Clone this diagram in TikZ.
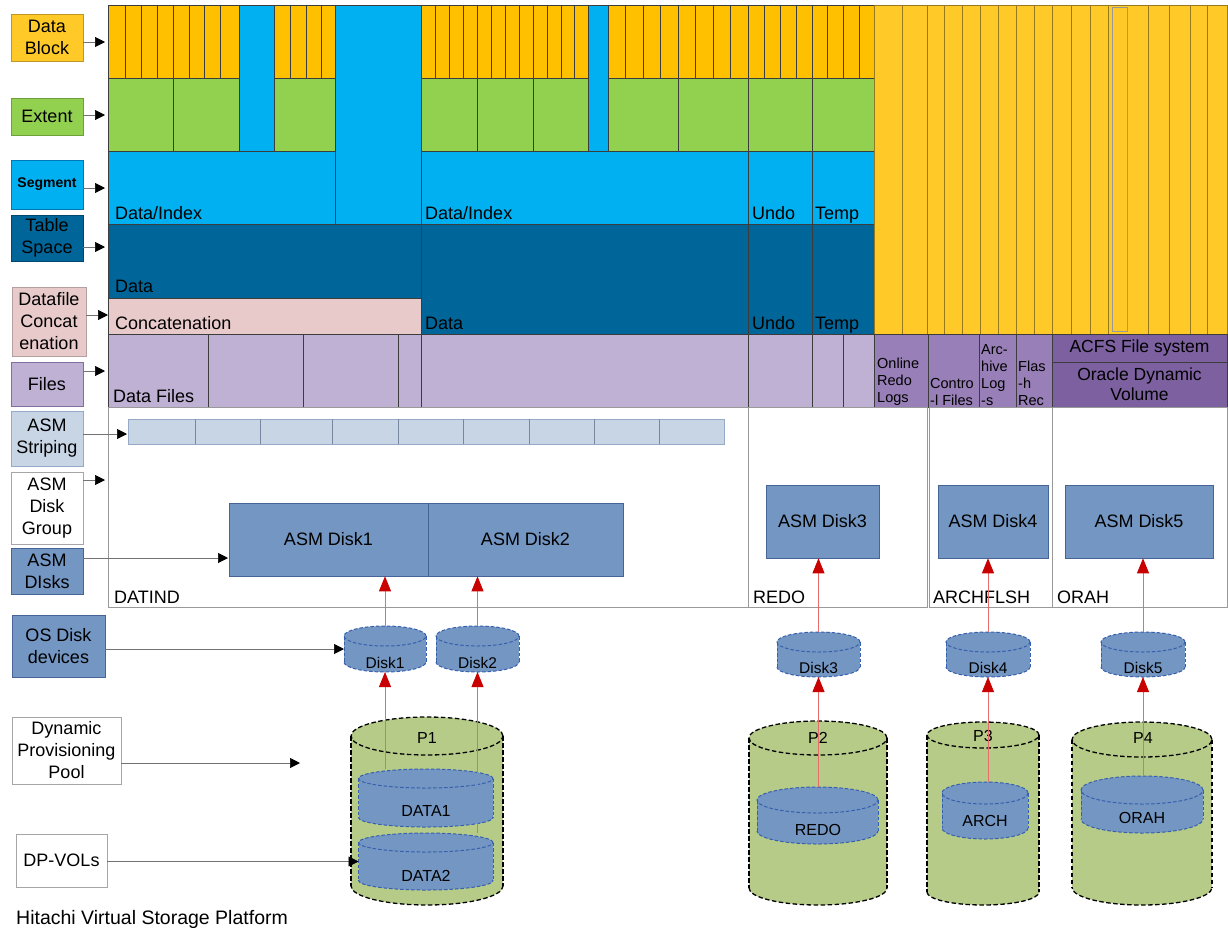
\documentclass[tikz,border=0pt]{standalone}
\usepackage{fontspec}
\setmainfont{Liberation Sans}
\usetikzlibrary{arrows.meta}
\definecolor{cYel}{RGB}{255,192,0}
\definecolor{cYel2}{RGB}{255,202,40}
\definecolor{cYelB}{RGB}{190,150,40}
\definecolor{cGrn}{RGB}{146,208,80}
\definecolor{cGrnB}{RGB}{110,160,60}
\definecolor{cCya}{RGB}{0,176,240}
\definecolor{cCyaB}{RGB}{0,120,180}
\definecolor{cDb}{RGB}{0,102,153}
\definecolor{cDbB}{RGB}{0,70,110}
\definecolor{cPink}{RGB}{232,202,202}
\definecolor{cPinkB}{RGB}{180,160,160}
\definecolor{cLp}{RGB}{191,177,212}
\definecolor{cLpB}{RGB}{130,110,160}
\definecolor{cMp}{RGB}{152,127,183}
\definecolor{cDp}{RGB}{124,96,160}
\definecolor{cAsm}{RGB}{115,150,194}
\definecolor{cAsmB}{RGB}{70,100,150}
\definecolor{cStr}{RGB}{200,213,229}
\definecolor{cStrB}{RGB}{150,170,200}
\definecolor{cPool}{RGB}{182,203,136}
\definecolor{cLine}{RGB}{60,60,60}
\definecolor{cOl}{RGB}{150,120,30}
\definecolor{cRedH}{RGB}{200,0,0}
\definecolor{cRedL}{RGB}{228,110,110}
\definecolor{cDiskE}{RGB}{55,95,175}
\newcommand{\mycyl}[8]{%
  \node[inner sep=0pt,outer sep=0pt,minimum width={(#3-#2)*1pt},minimum height={(#5-#4)*1pt}] (#1) at ({(#2+#3)/2},{(#4+#5)/2}) {};
  \fill[#7] (#2,{#4+#6}) rectangle (#3,{#5-#6});
  \fill[#7] ({(#2+#3)/2},{#5-#6}) ellipse [x radius={(#3-#2)/2*1pt}, y radius={#6*1pt}];
  \fill[#7] ({(#2+#3)/2},{#4+#6}) ellipse [x radius={(#3-#2)/2*1pt}, y radius={#6*1pt}];
  \draw[#8] (#2,{#4+#6}) -- (#2,{#5-#6});
  \draw[#8] (#3,{#4+#6}) -- (#3,{#5-#6});
  \draw[#8] ({(#2+#3)/2},{#4+#6}) ellipse [x radius={(#3-#2)/2*1pt}, y radius={#6*1pt}];
  \begin{scope}
    \clip ({#2-4},{#5-#6}) rectangle ({#3+4},{#5+4});
    \draw[#8] ({(#2+#3)/2},{#5-#6}) ellipse [x radius={(#3-#2)/2*1pt}, y radius={#6*1pt}];
  \end{scope}
}
\begin{document}
\begin{tikzpicture}[x=1pt,y=-1pt,
  blk/.style={draw=cLine, line width=0.6pt},
  oll/.style={draw=cOl, line width=0.6pt},
  txt/.style={inner sep=0pt, font=\fontsize{18}{21}\selectfont},
  stxt/.style={inner sep=0pt, align=left, font=\fontsize{14.5}{17}\selectfont},
  ctxt/.style={inner sep=0pt, font=\fontsize{15.5}{18}\selectfont},
  lbl/.style={line width=0.7pt, align=center, inner sep=1pt, font=\fontsize{18}{22}\selectfont, minimum width=72pt},
  asmbox/.style={draw=cAsmB, line width=0.6pt, fill=cAsm, inner sep=0pt, font=\fontsize{18}{21}\selectfont, minimum height=73pt},
  grp/.style={draw=black!40, line width=0.8pt},
  larr/.style={draw=black!55, line width=0.7pt, -{Triangle[length=10pt,width=10pt,color=black]}},
  rarr/.style={draw=cRedL, line width=0.8pt, -{Triangle[length=15pt,width=12pt,color=cRedH]}},
  diskedge/.style={draw=cDiskE, line width=1pt, dash pattern=on 3.5pt off 2pt},
  pooledge/.style={draw=black, line width=1.3pt, dash pattern=on 4.5pt off 2.5pt}
]
\useasboundingbox (0,0) rectangle (1228,932);
\fill[white] (0,0) rectangle (1228,932);

% ---------- data blocks (yellow) ----------
\filldraw[blk, fill=cYel] (108,5) rectangle (239,78);
\foreach \x in {125,141,157,173,189,204,220} \draw[blk] (\x,5) -- (\x,78);
\filldraw[blk, fill=cYel] (274,5) rectangle (335,78);
\foreach \x in {290,306,321} \draw[blk] (\x,5) -- (\x,78);
\filldraw[blk, fill=cYel] (421,5) rectangle (588,78);
\foreach \x in {435,449,463,477,491,505,519,533,547,561,574} \draw[blk] (\x,5) -- (\x,78);
\filldraw[blk, fill=cYel] (608,5) rectangle (874,78);
\foreach \x in {625,643,660,678,695,713,730,748,764,780,796,812,827,843,859} \draw[blk] (\x,5) -- (\x,78);

% ---------- cyan columns ----------
\filldraw[blk, fill=cCya] (239,5) rectangle (274,151);
\filldraw[blk, fill=cCya] (335,5) rectangle (421,224);
\filldraw[blk, fill=cCya] (588,5) rectangle (608,151);

% ---------- extents (green) ----------
\filldraw[blk, fill=cGrn] (108,78) rectangle (239,151);
\draw[blk] (173,78) -- (173,151);
\filldraw[blk, fill=cGrn] (274,78) rectangle (335,151);
\filldraw[blk, fill=cGrn] (421,78) rectangle (588,151);
\foreach \x in {477,533} \draw[blk] (\x,78) -- (\x,151);
\filldraw[blk, fill=cGrn] (608,78) rectangle (874,151);
\foreach \x in {678,748,812} \draw[blk] (\x,78) -- (\x,151);

% ---------- segments ----------
\filldraw[blk, fill=cCya] (108,151) rectangle (335,224);
\filldraw[blk, fill=cCya] (421,151) rectangle (874,224);
\foreach \x in {748,812} \draw[blk] (\x,151) -- (\x,224);

% ---------- tablespaces ----------
\filldraw[blk, fill=cDb] (108,224) rectangle (421,298);
\filldraw[blk, fill=cDb] (421,224) rectangle (874,334);
\foreach \x in {748,812} \draw[blk] (\x,224) -- (\x,334);

% ---------- concatenation ----------
\filldraw[blk, fill=cPink] (108,298) rectangle (421,334);

% ---------- files ----------
\filldraw[blk, fill=cLp] (108,334) rectangle (874,407);
\foreach \x in {208,303,398,421,748,812,843} \draw[blk] (\x,334) -- (\x,407);

% ---------- right yellow area ----------
\filldraw[oll, fill=cYel2] (874,5) rectangle (1227,334);
\foreach \x in {902,927,944,962,980,998,1016,1034,1052,1071,1090,1108,1148,1169,1190,1207} \draw[oll] (\x,5) -- (\x,334);
\draw[draw=black!40, line width=0.8pt] (1112,7) rectangle (1127,331);

% ---------- right files ----------
\filldraw[blk, fill=cMp] (874,334) rectangle (928,407);
\filldraw[blk, fill=cMp] (928,334) rectangle (979,407);
\filldraw[blk, fill=cMp] (979,334) rectangle (1016,407);
\filldraw[blk, fill=cMp] (1016,334) rectangle (1052,407);
\filldraw[blk, fill=cDp] (1052,334) rectangle (1227,362);
\filldraw[blk, fill=cDp] (1052,362) rectangle (1227,407);

% ---------- texts in the stack ----------
\node[txt, anchor=base west] (tdi1) at (115,219) {Data/Index};
\node[txt, anchor=base west] (tda1) at (115,292) {Data};
\node[txt, anchor=base west] (tcon) at (115,329) {Concatenation};
\node[txt, anchor=base west] (tdi2) at (425,219) {Data/Index};
\node[txt, anchor=base west] (tun1) at (752,219) {Undo};
\node[txt, anchor=base west] (tte1) at (815,219) {Temp};
\node[txt, anchor=base west] (tda2) at (425,329) {Data};
\node[txt, anchor=base west] (tun2) at (752,329) {Undo};
\node[txt, anchor=base west] (tte2) at (815,329) {Temp};
\node[txt, anchor=base west] (tdf) at (113,402) {Data Files};
\node[stxt, anchor=south west] (tord) at (877,406) {Online\\Redo\\Logs};
\node[stxt, anchor=south west] (tctl) at (930,406) {Contro\\-l Files};
\node[stxt, anchor=south west] (tarc) at (981,406) {Arc-\\hive\\Log\\-s};
\node[stxt, anchor=south west] (tfla) at (1018,406) {Flas\\-h\\Rec};
\node[inner sep=0pt, font=\fontsize{17.5}{20}\selectfont] (tacfs) at (1139.5,348) {ACFS File system};
\node[inner sep=0pt, align=center, font=\fontsize{17.5}{20}\selectfont] (todv) at (1139.5,384.5) {Oracle Dynamic\\Volume};

% ---------- disk groups ----------
\draw[grp] (108,407) rectangle (748,607);
\draw[grp] (748,407) rectangle (927,607);
\draw[grp] (929,407) rectangle (1052,607);
\draw[grp] (1052,407) rectangle (1227,607);
\node[txt, anchor=base west] (gdat) at (114,603) {DATIND};
\node[txt, anchor=base west] (gred) at (753,603) {REDO};
\node[txt, anchor=base west] (garc) at (933,603) {ARCHFLSH};
\node[txt, anchor=base west] (gora) at (1057,603) {ORAH};

% ---------- ASM striping ----------
\filldraw[draw=cStrB, line width=0.7pt, fill=cStr] (128,419) rectangle (724,444);
\foreach \x in {195,260,332,398,463,529,594,659} \draw[draw=cStrB!80!black, line width=0.7pt] (\x,419) -- (\x,444);

% ---------- ASM disks ----------
\node[asmbox, minimum width=199pt] (asm1) at (328.5,539.5) {ASM Disk1};
\node[asmbox, minimum width=195pt] (asm2) at (525.5,539.5) {ASM Disk2};
\node[asmbox, minimum width=113pt] (asm3) at (822.5,521.5) {ASM Disk3};
\node[asmbox, minimum width=110pt] (asm4) at (993,521.5) {ASM Disk4};
\node[asmbox, minimum width=148pt] (asm5) at (1139,521.5) {ASM Disk5};

% ---------- pools ----------
\mycyl{p1}{351}{503}{717}{905}{19}{cPool}{pooledge}
\mycyl{p2}{749}{887}{721}{905}{17}{cPool}{pooledge}
\mycyl{p3}{927}{1039}{722}{905}{13}{cPool}{pooledge}
\mycyl{p4}{1072}{1212}{722}{905}{17.5}{cPool}{pooledge}
\node[ctxt, font=\fontsize{16}{18}\selectfont] (p1t) at (427,738) {P1};
\node[ctxt, font=\fontsize{16}{18}\selectfont] (p2t) at (818,738) {P2};
\node[ctxt, font=\fontsize{16}{18}\selectfont] (p3t) at (983,736) {P3};
\node[ctxt, font=\fontsize{16}{18}\selectfont] (p4t) at (1143,738) {P4};

% ---------- DP-VOLs ----------
\mycyl{data1}{358.5}{493}{769}{827}{9.5}{cAsm}{diskedge}
\mycyl{data2}{358.5}{493}{833}{890}{9.5}{cAsm}{diskedge}
\mycyl{redo}{757}{878}{787}{844}{13}{cAsm}{diskedge}
\mycyl{arch}{942}{1028}{782}{839}{11}{cAsm}{diskedge}
\mycyl{orah}{1081}{1203}{776}{833}{14}{cAsm}{diskedge}
\node[ctxt, font=\fontsize{16}{18}\selectfont] (data1t) at (426,811) {DATA1};
\node[ctxt, font=\fontsize{16}{18}\selectfont] (data2t) at (426,876) {DATA2};
\node[ctxt, font=\fontsize{16}{18}\selectfont] (redot) at (818,830) {REDO};
\node[ctxt, font=\fontsize{16}{18}\selectfont] (archt) at (985,821) {ARCH};
\node[ctxt, font=\fontsize{16}{18}\selectfont] (oraht) at (1142,818) {ORAH};

% ---------- OS disks ----------
\mycyl{disk1}{344}{426}{626}{672}{10}{cAsm}{diskedge}
\mycyl{disk2}{436}{519}{626}{672}{10}{cAsm}{diskedge}
\mycyl{disk3}{777}{860}{632}{677}{10}{cAsm}{diskedge}
\mycyl{disk4}{946}{1030}{632}{677}{10}{cAsm}{diskedge}
\mycyl{disk5}{1101}{1185}{632}{677}{10}{cAsm}{diskedge}
\node[ctxt] (disk1t) at (385,663) {Disk1};
\node[ctxt] (disk2t) at (477.5,663) {Disk2};
\node[ctxt] (disk3t) at (818.5,668) {Disk3};
\node[ctxt] (disk4t) at (988,668) {Disk4};
\node[ctxt] (disk5t) at (1143,668) {Disk5};

% ---------- red arrows ----------
\draw[rarr] (disk1.south |- data1.north) -- (disk1.south);
\draw[rarr] (disk1.north) -- (disk1.north |- asm1.south);
\draw[rarr] (disk2.south |- data2.north) -- (disk2.south);
\draw[rarr] (disk2.north) -- (disk2.north |- asm2.south);
\draw[rarr] (disk3.south |- redo.north) -- (disk3.south);
\draw[rarr] (disk3.north) -- (disk3.north |- asm3.south);
\draw[rarr] (disk4.south |- arch.north) -- (disk4.south);
\draw[rarr] (disk4.north) -- (disk4.north |- asm4.south);
\draw[rarr] (disk5.south |- orah.north) -- (disk5.south);
\draw[rarr] (disk5.north) -- (disk5.north |- asm5.south);

% ---------- left legend ----------
\node[lbl, fill=cYel2, draw=cYelB, minimum height=47pt] (lDB) at (47,37.5) {Data\\Block};
\node[lbl, fill=cGrn, draw=cGrnB, minimum height=37pt] (lEx) at (47,116.5) {Extent};
\node[lbl, fill=cCya, draw=cCyaB, minimum height=49pt, font=\fontsize{14}{16}\selectfont\bfseries] (lSeg) at (47,184.5) {Segment};
\node[lbl, fill=cDb, draw=cDbB, minimum height=46pt] (lTS) at (47,238) {Table\\Space};
\node[lbl, fill=cPink, draw=cPinkB, minimum width=74pt, minimum height=69pt] (lDC) at (49,321.5) {Datafile\\Concat\\enation};
\node[lbl, fill=cLp, draw=cLpB, minimum height=44pt] (lFi) at (47,384) {Files};
\node[lbl, fill=cStr, draw=cStrB, minimum height=55pt] (lStr) at (47,438.5) {ASM\\Striping};
\node[lbl, fill=white, draw=black!35, minimum height=72pt] (lDG) at (47,508) {ASM\\Disk\\Group};
\node[lbl, fill=cAsm, draw=cAsmB, minimum height=46pt] (lAD) at (47,571) {ASM\\DIsks};
\node[lbl, fill=cAsm, draw=cAsmB, minimum width=93pt, minimum height=62pt] (lOS) at (58.5,646) {OS Disk\\devices};
\node[lbl, fill=white, draw=black!35, minimum width=109pt, minimum height=67pt] (lDP) at (66.5,750.5) {Dynamic\\Provisioning\\Pool};
\node[lbl, fill=white, draw=black!35, minimum width=91pt, minimum height=53pt] (lDV) at (61.5,860.5) {DP-VOLs};
\node[inner sep=0pt, anchor=base west, font=\fontsize{19.5}{22}\selectfont] (hvsp) at (16,924) {Hitachi Virtual Storage Platform};

\coordinate (aDB) at (105,42);
\coordinate (aEx) at (105,115);
\coordinate (aSeg) at (105,188);
\coordinate (aTS) at (105,247);
\coordinate (aDC) at (108,315);
\coordinate (aFi) at (105,371);
\coordinate (aStr) at (127,434);
\coordinate (aDG) at (105,480);
\coordinate (aAD) at (228,558);
\coordinate (aDP) at (300,763);

\draw[larr] (lDB.east |- aDB) -- (aDB);
\draw[larr] (lEx.east |- aEx) -- (aEx);
\draw[larr] (lSeg.east |- aSeg) -- (aSeg);
\draw[larr] (lTS.east |- aTS) -- (aTS);
\draw[larr] (lDC.east |- aDC) -- (aDC);
\draw[larr] (lFi.east |- aFi) -- (aFi);
\draw[larr] (lStr.east |- aStr) -- (aStr);
\draw[larr] (lDG.east |- aDG) -- (aDG);
\draw[larr] (lAD.east |- aAD) -- (aAD);
\draw[larr] (lOS.east |- disk1.west) -- (disk1.west);
\draw[larr] (lDP.east |- aDP) -- (aDP);
\draw[larr] (lDV.east |- data2.west) -- (data2.west);
\end{tikzpicture}
\end{document}
